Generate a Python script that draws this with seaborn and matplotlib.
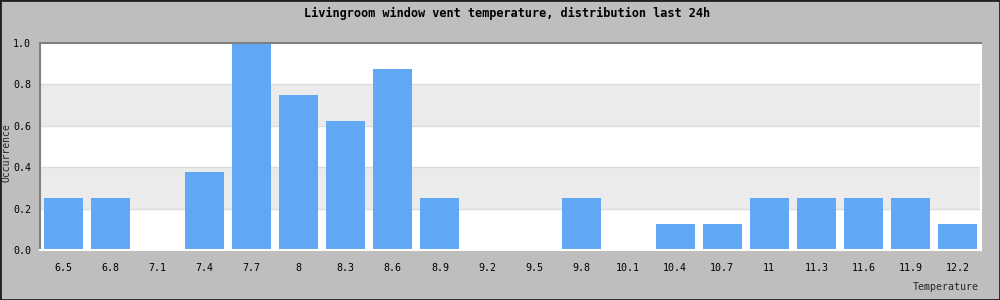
import matplotlib
matplotlib.use("Agg")
import matplotlib.pyplot as plt
import seaborn as sns
import pandas as pd
from matplotlib.patches import Rectangle

temperatures = ["6.5", "6.8", "7.1", "7.4", "7.7", "8", "8.3", "8.6", "8.9", "9.2",
                "9.5", "9.8", "10.1", "10.4", "10.7", "11", "11.3", "11.6", "11.9", "12.2"]
occurrence = [0.25, 0.25, 0.0, 0.375, 1.0, 0.75, 0.625, 0.875, 0.25, 0.0,
              0.0, 0.25, 0.0, 0.125, 0.125, 0.25, 0.25, 0.25, 0.25, 0.125]
y_ticks = [0.0, 0.2, 0.4, 0.6, 0.8, 1.0]
y_tick_labels = ["0.0", "0.2", "0.4", "0.6", "0.8", "1.0"]

title = "Livingroom window vent temperature, distribution last 24h"

sns.set_style("white")
plt.rcParams['font.family'] = ['DejaVu Sans Mono', 'DejaVu Sans']

df = pd.DataFrame({"Temperature": temperatures, "Occurrence": occurrence})

bg = "#bebebe"
fig = plt.figure(figsize=(10, 3), dpi=100, facecolor=bg)
ax = fig.add_axes([0.040, 0.1667, 0.941, 0.69])
ax.set_facecolor("white")

# alternating bands
for i in range(len(y_ticks) - 1):
    if i % 2 == 1:
        ax.axhspan(y_ticks[i], y_ticks[i + 1], color="#ebebeb", zorder=0, lw=0)
for yv in y_ticks[1:-1]:
    ax.axhline(yv, color="#dcdcdc", lw=1, zorder=0.5)

sns.barplot(data=df, x="Temperature", y="Occurrence", color="#60a8f4",
            saturation=1, width=0.83, ax=ax, zorder=2, linewidth=0, edgecolor="none")

ax.set_ylim(0, 1.0)
ax.set_xlim(-0.5, len(temperatures) - 0.5)
ax.set_yticks(y_ticks)
ax.set_yticklabels(y_tick_labels)
ax.tick_params(axis="y", length=0, pad=6.5, labelsize=7.2, colors="black")
ax.tick_params(axis="x", length=0, pad=9.5, labelsize=7.2, colors="black")

ax.set_xlabel("")
ax.set_ylabel("")
fig.text(0.002, 0.49, "Occurrence", rotation=90, ha="left", va="center", fontsize=7.0)
fig.text(0.979, 0.045, "Temperature", ha="right", va="center", fontsize=7.2)
fig.text(0.507, 0.955, title, ha="center", va="center", fontsize=8.6,
         fontweight="bold", color="black")

for side in ["top", "left"]:
    ax.spines[side].set_color("#808080")
    ax.spines[side].set_linewidth(1.5)
for side in ["bottom", "right"]:
    ax.spines[side].set_color("white")
    ax.spines[side].set_linewidth(1.5)
    ax.spines[side].set_visible(True)

fig.patches.append(Rectangle((0, 0), 1, 1, transform=fig.transFigure,
                             fill=False, edgecolor="#202020", lw=2.0, zorder=10))

fig.savefig("out.png", dpi=100, facecolor=bg)
